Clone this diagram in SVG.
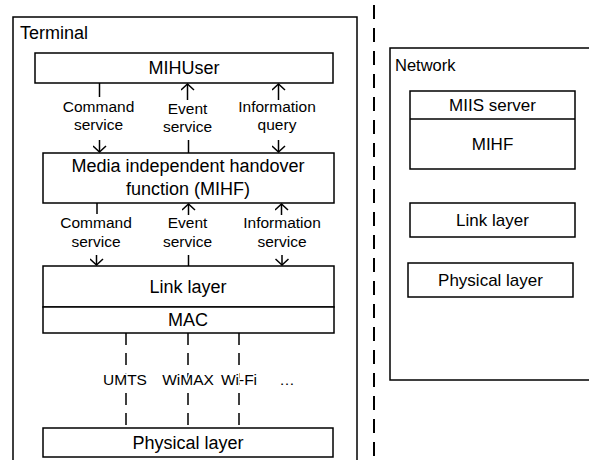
<svg xmlns="http://www.w3.org/2000/svg" width="589" height="460" viewBox="0 0 589 460">
<defs>
<style>
text{font-family:"Liberation Sans",Arial,sans-serif;fill:#000}
.box{fill:#fff;stroke:#000;stroke-width:1.5}
.frame{fill:none;stroke:#000;stroke-width:1.5}
.big{font-size:18px;text-anchor:middle}
.mid{font-size:17px;text-anchor:middle}
.lbl{font-size:15.5px;text-anchor:middle}
.ln{stroke:#000;stroke-width:1.5;fill:none}
.dl{stroke:#000;stroke-width:1.5;stroke-dasharray:12 8;fill:none}
</style>
<marker id="ah" viewBox="0 0 8 14" refX="7" refY="7" markerWidth="8" markerHeight="14" markerUnits="userSpaceOnUse" orient="auto">
<path d="M1,0.5 L7,7 L1,13.5" fill="none" stroke="#000" stroke-width="1.5"/>
</marker>
</defs>
<rect width="589" height="460" fill="#fff"/>

<g id="terminal">
<rect class="frame" x="13" y="17" width="344" height="460"/>
<text x="20" y="39" style="font-size:18px">Terminal</text>
</g>

<g id="divider">
<line x1="374" y1="0" x2="374" y2="460" stroke="#000" stroke-width="2" stroke-dasharray="14 9" stroke-dashoffset="18"/>
</g>

<g id="mihuser">
<rect class="box" x="35" y="53" width="298" height="30"/>
<text class="big" x="184" y="74">MIHUser</text>
</g>

<g id="mihf">
<rect class="box" x="43" y="153" width="291" height="50"/>
<text class="big" x="188" y="172">Media independent handover</text>
<text class="big" x="188" y="195">function (MIHF)</text>
</g>

<g id="linklayer">
<rect class="box" x="43" y="266" width="291" height="41"/>
<text class="big" x="188" y="293">Link layer</text>
</g>

<g id="mac">
<rect class="box" x="43" y="307" width="291" height="26"/>
<text class="big" x="188" y="326">MAC</text>
</g>

<g id="physical">
<rect class="box" x="43" y="428" width="290" height="29"/>
<text class="big" x="188" y="449">Physical layer</text>
</g>

<g id="network">
<rect class="frame" x="390" y="48" width="210" height="332"/>
<text x="395" y="71" style="font-size:16.5px">Network</text>
</g>

<g id="miis">
<rect class="box" x="410" y="91" width="165" height="78"/>
<line class="ln" x1="410" y1="119" x2="575" y2="119"/>
<text class="mid" x="492.5" y="111">MIIS server</text>
<text class="mid" x="492.5" y="150">MIHF</text>
</g>

<g id="net-link">
<rect class="box" x="410" y="203" width="165" height="34"/>
<text class="mid" x="492.5" y="226">Link layer</text>
</g>

<g id="net-physical">
<rect class="box" x="408" y="263" width="165" height="34"/>
<text class="mid" x="490.5" y="286">Physical layer</text>
</g>

<g id="connectors">
<line class="ln" x1="99.5" y1="83" x2="99.5" y2="97"/>
<line class="ln" x1="99.5" y1="140" x2="99.5" y2="152" marker-end="url(#ah)"/>
<line class="ln" x1="187.5" y1="100" x2="187.5" y2="84" marker-end="url(#ah)"/>
<line class="ln" x1="188.5" y1="140" x2="188.5" y2="153"/>
<line class="ln" x1="278.5" y1="100" x2="278.5" y2="84" marker-end="url(#ah)"/>
<line class="ln" x1="278.5" y1="140" x2="278.5" y2="152" marker-end="url(#ah)"/>

<line class="ln" x1="97" y1="203" x2="97" y2="214"/>
<line class="ln" x1="96.5" y1="255" x2="96.5" y2="265" marker-end="url(#ah)"/>
<line class="ln" x1="188.5" y1="215" x2="188.5" y2="204" marker-end="url(#ah)"/>
<line class="ln" x1="188.5" y1="255" x2="188.5" y2="266"/>
<line class="ln" x1="281.5" y1="215" x2="281.5" y2="204" marker-end="url(#ah)"/>
<line class="ln" x1="282" y1="255" x2="282" y2="265" marker-end="url(#ah)"/>

<line class="dl" x1="126" y1="333" x2="126" y2="428"/>
<line class="dl" x1="188" y1="333" x2="188" y2="428"/>
<line class="dl" x1="239" y1="333" x2="239" y2="428"/>
</g>

<g id="labels">
<text class="lbl" x="98.5" y="112">Command</text>
<text class="lbl" x="98.5" y="130">service</text>
<text class="lbl" x="187.5" y="114">Event</text>
<text class="lbl" x="187.5" y="132">service</text>
<text class="lbl" x="277" y="112">Information</text>
<text class="lbl" x="277" y="130">query</text>

<text class="lbl" x="96" y="228">Command</text>
<text class="lbl" x="96" y="247">service</text>
<text class="lbl" x="187.5" y="228">Event</text>
<text class="lbl" x="187.5" y="247">service</text>
<text class="lbl" x="282" y="228">Information</text>
<text class="lbl" x="282" y="247">service</text>

<g style="paint-order:stroke" stroke="#fff" stroke-width="3">
<text class="lbl" x="125" y="385">UMTS</text>
<text class="lbl" x="188" y="385">WiMAX</text>
<text class="lbl" x="239" y="385">Wi-Fi</text>
<text class="lbl" x="287" y="385">…</text>
</g>
</g>
</svg>
